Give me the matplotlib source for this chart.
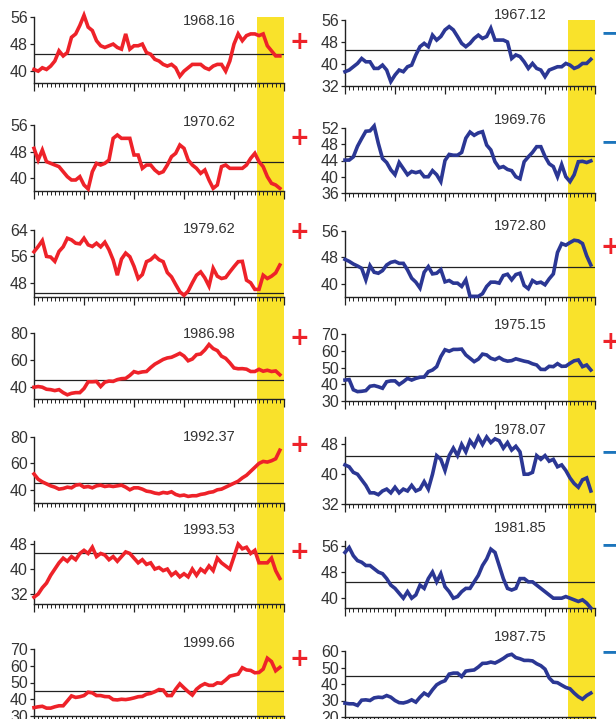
import matplotlib
matplotlib.use('Agg')
import matplotlib.pyplot as plt
from matplotlib.patches import Rectangle
from matplotlib.ticker import MultipleLocator, FixedLocator

plt.rcParams['font.family'] = ['Liberation Sans', 'DejaVu Sans']

# ---------------- data ----------------
months = list(range(60))

red_labels = ['1968.16', '1970.62', '1979.62', '1986.98', '1992.37', '1993.53', '1999.66']
blue_labels = ['1967.12', '1969.76', '1972.80', '1975.15', '1978.07', '1981.85', '1987.75']

red_1 = [40.5, 40, 41, 40.5, 41.5, 43, 46, 44.5, 45.5, 50, 51, 53.5, 56.5, 53, 52, 49, 47.5, 47, 47.5, 48,
         47, 46.5, 51, 46.5, 47.5, 47.5, 48, 45.5, 45, 43.5, 43, 42, 41.5, 42, 41, 38.5, 40, 41, 42, 42,
         42, 41, 40.5, 41.5, 42, 42, 40, 43, 48, 51, 49, 50.5, 51, 51, 50.5, 51, 47.5, 46, 44.5, 44.5]
red_2 = [49, 45.5, 48.5, 45, 44.5, 44, 43.5, 42, 40.5, 39.5, 39.5, 40.5, 38, 36.8, 42, 44.5, 44, 44.5, 45.5, 52,
         53, 52, 52, 52, 47, 47, 43, 44, 44, 42.5, 41.5, 42, 44, 46.5, 47.5, 50, 49, 45.5, 44, 43,
         41.5, 42.5, 39.5, 37, 38, 43.5, 44, 43, 43, 43, 43, 44, 46, 47.5, 45, 43.5, 40.5, 38.5, 38, 37]
red_3 = [57.4, 59, 60.8, 56, 55.8, 54.5, 57.5, 58.9, 61.5, 61, 60, 59.8, 61.5, 59.5, 59, 60, 58.9, 60.3, 58, 54.9,
         50.3, 55.2, 57, 55.9, 53, 49.3, 50.5, 54.4, 55, 56.2, 55, 54.4, 51.1, 49.8, 47.5, 45.3, 44.2, 45.5, 48, 50.3,
         51.3, 49.5, 47, 52.4, 50, 49.3, 49.6, 51.3, 52.9, 54.4, 54.5, 48.8, 48, 46, 46, 50.3, 49.3, 50, 51, 53.4]
red_4 = [40, 40.5, 40, 38.5, 38.2, 37.5, 38.2, 36, 34.4, 35.5, 36, 36, 39, 44, 44, 44.2, 40.5, 43.7, 44.5, 44.3,
         45.6, 46.3, 46.5, 48.7, 51.5, 50.6, 51.3, 51.6, 54.5, 57, 58.7, 60.5, 61.6, 62.1, 63.5, 65, 63, 59.5, 60.8, 64,
         64.5, 67.5, 71.5, 68.5, 67, 62.9, 61.3, 58, 54.2, 53.6, 53.7, 53.3, 51.6, 51.6, 53.2, 51.8, 52.5, 51.6, 52, 49.2]
red_5 = [52, 48, 46, 44.5, 43, 42, 40.5, 41, 42, 41.5, 43.5, 44, 42, 42.5, 41.5, 43, 43.5, 42.5, 43, 42.5,
         43, 43.5, 42, 40, 41.5, 41.5, 40.5, 39, 38.5, 37.5, 37, 38, 37.5, 38.5, 36.5, 35.5, 36, 35, 35.5, 35.5,
         36.5, 37, 38, 38.5, 40, 40.5, 42, 43.5, 45, 46.5, 49, 51, 54, 57, 60, 61.5, 61, 62, 63.5, 70]
red_6 = [31, 32, 34, 35.5, 38, 40, 42, 43.5, 42.5, 44, 43, 45, 46, 45, 47, 44, 45, 44.5, 43, 44,
         42.5, 44, 45.5, 45, 43.5, 42, 43, 41.5, 42, 40, 40.5, 39.5, 40, 38, 39, 37.5, 38.5, 37.5, 40, 38,
         40, 39, 41, 39.5, 43.5, 42, 41, 40, 44, 48, 46.5, 47, 45, 46, 42, 42, 42, 43.5, 39.5, 37]
red_7 = [35, 35.5, 35.8, 34.7, 34.7, 35.5, 36.1, 36.1, 39, 42, 41.1, 41.5, 42.2, 44.2, 43.8, 42.2, 42.2, 41.6, 41.5, 39.8,
         39.6, 40, 39.8, 40.2, 40.8, 41.5, 41.7, 43, 43.5, 44.5, 45.8, 45.5, 42.2, 42.2, 46, 49.2, 46.8, 44.5, 42.5, 46,
         48, 49.3, 48.3, 48.3, 49.8, 49.5, 51.5, 53.8, 54.4, 55, 58.8, 57.5, 57.2, 55.8, 56, 58, 64.5, 62.5, 57, 59]

blue_1 = [37.2, 37.8, 39, 40.2, 42, 40.8, 40.8, 38.4, 38.4, 39.6, 37.8, 33.6, 36, 37.8, 37.2, 39, 39.6, 43.3, 46.3, 47.5,
          46.3, 50.5, 48.7, 50, 52.4, 53.6, 52.4, 50, 47.5, 46.3, 47.5, 49.3, 50.5, 49.3, 50, 53, 48.7, 48.7, 48.7, 48,
          42, 43.3, 42.7, 40.8, 38.4, 40.2, 38.4, 37.8, 35.4, 37.8, 38.4, 39, 39, 40.2, 39.6, 38.4, 39, 40.2, 40.2, 41.7]
blue_2 = [44.1, 44.1, 44.9, 47.5, 49.4, 51.2, 51.3, 52.5, 48.2, 44.5, 43.5, 41.7, 40.5, 43.5, 42, 40.5, 41.3, 41, 41.3, 40,
          40, 41.5, 40.5, 38.8, 44, 45.5, 45.3, 45.3, 46, 49.5, 51, 50.2, 50.8, 51.1, 47.8, 46.6, 43.7, 42.2, 42.5, 41.8,
          41.5, 40, 39.5, 43.7, 44.9, 46, 47.4, 47.4, 45, 43.2, 42.5, 40, 43, 40, 38.8, 40.5, 43.7, 43.8, 43.5, 43.9]
blue_3 = [47.4, 46.8, 46, 45.4, 44.7, 41.2, 45.5, 43.5, 43.2, 44, 45.7, 46.5, 46.8, 46.2, 46.2, 44.2, 41.7, 40.5, 38.7, 43.5,
          45.2, 43, 43.2, 44.3, 40.6, 41, 40.2, 40.2, 39.2, 41.2, 36.2, 36.2, 36.2, 37, 39.2, 40.5, 40.5, 40.2, 42.5, 42.9,
          41.2, 42.8, 43.2, 39.5, 38.5, 41, 40.2, 40.5, 39.7, 41.5, 43, 49.5, 52.2, 51.7, 52.5, 53.2, 53, 52.2, 48.5, 45.7]
blue_4 = [42.5, 42.8, 36.7, 35.6, 35.8, 36.2, 38.8, 39.2, 38.5, 37.6, 41.5, 42, 42, 39.8, 41.5, 43.5, 42.5, 43.5, 44.2, 44.3,
          47.5, 48.5, 50.5, 56.5, 60.6, 59.7, 60.8, 60.8, 61, 57.5, 55.5, 53.5, 55, 58, 57.5, 55.5, 54.7, 56, 54.5, 53.8,
          54.1, 55.2, 54.5, 53.8, 53.3, 52.2, 51.5, 48.9, 48.8, 50.7, 50.5, 52.3, 50.7, 50.8, 52.5, 54, 54.5, 50.5, 51.5, 48.5]
blue_5 = [42.5, 42, 40.5, 40, 38.5, 37, 35, 35, 34.5, 35.5, 36, 35, 36.5, 35, 36, 35.5, 37, 35.5, 36, 38,
          36, 40, 45, 44, 41, 45, 47, 45, 48, 46, 49, 47.5, 50, 48, 50, 48.5, 49.5, 49, 47, 48.5,
          46.5, 47.5, 46, 40, 40, 40.5, 45, 44, 45, 43.5, 44, 42, 42.5, 41, 39, 37.5, 36.5, 38.5, 39, 35.5]
blue_6 = [54, 55.5, 53, 51.5, 51, 50, 50, 49, 48, 47.5, 46, 44, 43, 41.5, 40, 42, 40, 41, 44, 43,
          46, 48, 45, 47.5, 43.5, 42, 40, 40.5, 42, 43, 43, 45, 47, 50, 52, 55, 54, 50, 46, 43,
          42.5, 43, 46, 46, 45, 45, 44, 43, 42, 41, 40, 40, 40, 40.5, 40, 39.5, 39, 39.5, 38.5, 37]
blue_7 = [28.4, 28, 28, 27, 30.2, 30.4, 30, 31.6, 32, 31.8, 33, 32, 30, 28.7, 28.5, 29.2, 30.4, 29, 32, 34.5,
          33, 36.5, 39.5, 41, 42, 46, 46.6, 46.6, 44.5, 47.8, 48.2, 48.5, 50.3, 52.5, 52.6, 53.3, 52.7, 54, 55.5, 57.3,
          58, 56, 55.3, 54.3, 54.3, 54, 52.3, 51.1, 49, 43.7, 41.1, 40.8, 39.3, 37.9, 37.1, 34.5, 32.3, 30.8, 33, 34.5]

red_series = [red_1, red_2, red_3, red_4, red_5, red_6, red_7]
blue_series = [blue_1, blue_2, blue_3, blue_4, blue_5, blue_6, blue_7]

red_yticks = [[40, 48, 56], [40, 48, 56], [48, 56, 64], [40, 60, 80], [40, 60, 80], [32, 40, 48], [30, 40, 50, 60, 70]]
blue_yticks = [[32, 40, 48, 56], [36, 40, 44, 48, 52], [40, 48, 56], [30, 40, 50, 60, 70], [32, 40, 48], [40, 48, 56],
               [20, 30, 40, 50, 60]]
red_ylims = [(36.5, 56), (36.2, 56), (43.7, 64), (31.3, 80), (30, 80), (28.8, 49), (30, 70)]
blue_ylims = [(32, 56), (36, 52), (36, 56), (30, 70), (32, 50), (37, 57.5), (20, 60)]

red_signs = ['+', '+', '+', '+', '+', '+', '+']
blue_signs = ['−', '−', '+', '+', '−', '−', '−']

ref_level = 45
shade_start = 53.5
x_min, x_max = 0, 60

# ---------------- layout (pixels) ----------------
W, H = 616, 719
left_x = (34, 284)
right_x = (345, 595)
left_rows = [(17, 83), (125, 191), (230, 297), (333, 399), (437, 503), (541, 604), (649, 716)]
right_rows = [(20, 86), (128, 193), (231, 297), (334, 401), (437, 504), (541, 608), (651, 717)]
red_label_y = [0.94, 1.045, 1.015, 0.985, 1.0, 1.17, 1.09]
blue_label_y = [1.076, 1.12, 1.075, 1.13, 1.1, 1.19, 1.21]
red_sign_y = [42, 138, 232, 338, 445, 552, 659]
blue_sign_y = [33, 142, 247, 342, 452, 545, 652]

RED = '#EE2229'
BLUE = '#2B3794'
SIGN_BLUE = '#1C75BC'
YELLOW = '#F9E22B'

fig = plt.figure(figsize=(W / 100, H / 100), dpi=100)


def make_axes(xr, yr):
    l, r = xr
    t, b = yr
    ax = fig.add_axes([l / W, 1 - b / H, (r - l) / W, (b - t) / H])
    ax.patch.set_facecolor('none')
    return ax


def style(ax, ylim, yticks):
    ax.set_xlim(x_min, x_max)
    ax.set_ylim(*ylim)
    ax.xaxis.set_major_locator(MultipleLocator(12))
    ax.xaxis.set_minor_locator(MultipleLocator(1))
    ax.yaxis.set_major_locator(FixedLocator(yticks))
    ax.set_xticklabels([])
    for s in ('top', 'right'):
        ax.spines[s].set_visible(False)
    for s in ('left', 'bottom'):
        ax.spines[s].set_linewidth(1.0)
        ax.spines[s].set_color('#222222')
    ax.tick_params(axis='y', which='major', length=3, width=0.9, pad=1.5,
                   labelsize=11.5, labelcolor='#333333', color='#222222')
    ax.tick_params(axis='x', which='major', length=5.5, width=0.9, color='#222222')
    ax.tick_params(axis='x', which='minor', length=3.2, width=0.7, color='#222222')
    ax.axhline(ref_level, color='#222222', lw=0.9, zorder=2)


axes_left, axes_right = [], []
for i in range(7):
    ax = make_axes(left_x, left_rows[i])
    style(ax, red_ylims[i], red_yticks[i])
    ax.plot(months, red_series[i], color=RED, lw=2.6, solid_joinstyle='miter', zorder=3, clip_on=False)
    ax.text(42, red_label_y[i], red_labels[i], transform=ax.get_xaxis_transform(),
            ha='center', va='center', fontsize=10.5, color='#333333')
    axes_left.append(ax)

    ax2 = make_axes(right_x, right_rows[i])
    style(ax2, blue_ylims[i], blue_yticks[i])
    ax2.plot(months, blue_series[i], color=BLUE, lw=2.6, solid_joinstyle='miter', zorder=3, clip_on=False)
    ax2.text(42, blue_label_y[i], blue_labels[i], transform=ax2.get_xaxis_transform(),
             ha='center', va='center', fontsize=10.5, color='#333333')
    axes_right.append(ax2)

# yellow strips spanning the columns
for ax in (axes_left[0], axes_right[0]):
    x0, y0 = fig.transFigure.inverted().transform(ax.transData.transform((shade_start, ax.get_ylim()[1])))
    x1, _ = fig.transFigure.inverted().transform(ax.transData.transform((x_max, ax.get_ylim()[1])))
    fig.patches.append(Rectangle((x0, 0), x1 - x0, y0, transform=fig.transFigure,
                                 facecolor=YELLOW, edgecolor='none', zorder=-5))

# signs
for i in range(7):
    fig.text(299.5 / W, 1 - red_sign_y[i] / H, red_signs[i], ha='center', va='center',
             fontsize=17, fontweight='bold', color=RED, family='DejaVu Sans')
    s = blue_signs[i]
    col = RED if s == '+' else SIGN_BLUE
    fig.text(610 / W, 1 - blue_sign_y[i] / H, s, ha='center', va='center',
             fontsize=17, fontweight='bold', color=col, family='DejaVu Sans')

fig.savefig('out.png', dpi=100)
